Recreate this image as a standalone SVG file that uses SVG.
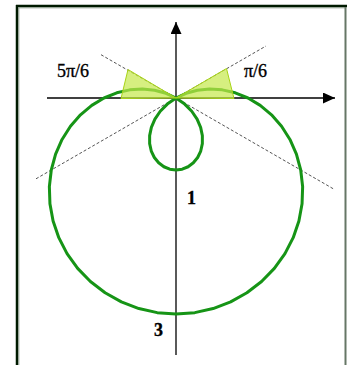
<svg xmlns="http://www.w3.org/2000/svg" width="347" height="365" viewBox="0 0 347 365">
<style>
.axis{stroke:#000;stroke-width:1.3;fill:none}
.guide{stroke:#555;stroke-width:1;stroke-dasharray:3 2;fill:none}
.curve{stroke:#169416;stroke-width:3;fill:none;stroke-linejoin:round}
.shade{fill:#c4e84a;fill-opacity:0.7;stroke:#a8d418;stroke-width:1}
.lbl{font-family:"Liberation Serif",serif;font-size:18px;fill:#000;stroke:#000;stroke-width:0.35}
</style>
<defs>
<marker id="ah" markerWidth="12" markerHeight="11" refX="12" refY="5.5" orient="auto" markerUnits="userSpaceOnUse">
<path d="M0,0 L12,5.5 L0,11 Z" fill="#000"/>
</marker>
</defs>
<rect width="347" height="365" fill="#fff"/>
<g id="frame">
<line x1="17" y1="5" x2="17" y2="365" stroke="#001a00" stroke-width="2.5"/>
<line x1="16" y1="6" x2="347" y2="6" stroke="#001a00" stroke-width="2.5"/>
<line x1="18.8" y1="8" x2="18.8" y2="365" stroke="#8a9a8a" stroke-width="1"/>
<line x1="18" y1="7.8" x2="345" y2="7.8" stroke="#8a9a8a" stroke-width="1"/>
<line x1="345.5" y1="7" x2="345.5" y2="365" stroke="#667766" stroke-width="2"/>
</g>
<g id="connectors">
<line class="guide" x1="36" y1="178.8" x2="266" y2="46"/>
<line class="guide" x1="101" y1="54.7" x2="334" y2="189.2"/>
<line class="axis" x1="47" y1="98" x2="335" y2="98" marker-end="url(#ah)"/>
<line class="axis" x1="176" y1="355" x2="176" y2="22" marker-end="url(#ah)"/>
</g>
<g id="limacon">
<path class="curve" d="M248,98 L235.22,92.82 L222.28,89.84 L209.55,89.01 L197.38,90.22 L186.10,93.29 L176,98 L167.32,104.08 L160.25,111.22 L154.91,119.09 L151.37,127.35 L149.64,135.65 L149.65,143.65 L151.27,151.03 L154.34,157.50 L158.64,162.81 L163.88,166.75 L169.77,169.18 L176,170 L182.23,169.18 L188.12,166.75 L193.36,162.81 L197.66,157.50 L200.73,151.03 L202.35,143.65 L202.36,135.65 L200.63,127.35 L197.09,119.09 L191.75,111.22 L184.68,104.08 L176,98 L165.90,93.29 L154.62,90.22 L142.45,89.01 L129.72,89.84 L116.78,92.82 L104,98 L91.77,105.37 L80.47,114.85 L70.45,126.28 L62.06,139.47 L55.59,154.15 L51.29,170 L49.36,186.67 L49.94,203.78 L53.09,220.91 L58.81,237.66 L67.04,253.60 L77.65,268.35 L90.42,281.54 L105.09,292.81 L121.36,301.90 L138.87,308.56 L157.22,312.63 L176,314 L194.78,312.63 L213.13,308.56 L230.64,301.90 L246.91,292.81 L261.58,281.54 L274.35,268.35 L284.96,253.60 L293.19,237.66 L298.91,220.91 L302.06,203.78 L302.64,186.67 L300.71,170 L296.41,154.15 L289.94,139.47 L281.55,126.28 L271.53,114.85 L260.23,105.37 Z"/>
</g>
<g id="sector-5pi6">
<polygon class="shade" points="176,98 128,69.5 121,98.5"/>
</g>
<g id="sector-pi6">
<polygon class="shade" points="176,98 226.5,68.5 234,98.5"/>
</g>
<g id="labels">
<text class="lbl" x="57" y="77">5π/6</text>
<text class="lbl" x="244" y="77">π/6</text>
<text class="lbl" x="187" y="204" font-weight="bold" font-family="Liberation Sans,sans-serif" font-size="17" stroke-width="0">1</text>
<text class="lbl" x="154" y="336" font-weight="bold" font-family="Liberation Sans,sans-serif" font-size="17" stroke-width="0">3</text>
</g>
</svg>
